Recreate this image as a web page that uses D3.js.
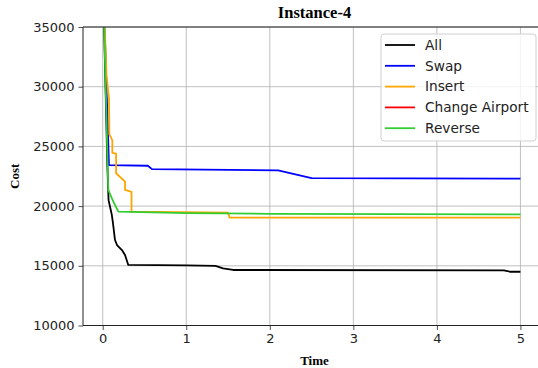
<!DOCTYPE html>
<html>
<head>
<meta charset="utf-8">
<script src="https://cdn.jsdelivr.net/npm/d3@7"></script>
<style>
  body { margin: 0; background: #fff; }
  svg { display: block; }
</style>
</head>
<body>
<script>
// data
const allTime   = [0, 0.055, 0.07, 0.108, 0.123, 0.147, 0.171, 0.23, 0.267, 0.306, 1.0, 1.35, 1.44, 1.56, 4.8, 4.88, 5.0];
const allCost   = [40000, 23500, 20500, 19300, 18560, 17160, 16740, 16320, 15900, 15070, 15040, 15000, 14790, 14650, 14620, 14500, 14500];

const swapTime  = [0, 0.075, 0.54, 0.59, 2.1, 2.5, 5.0];
const swapCost  = [40000, 23440, 23380, 23100, 23000, 22350, 22300];

const insertTime = [0, 0.045, 0.075, 0.08, 0.115, 0.115, 0.16, 0.16, 0.267, 0.267, 0.345, 0.345, 1.5, 1.52, 5.0];
const insertCost = [40000, 31000, 29000, 26000, 25500, 24450, 24400, 22750, 22050, 21350, 21200, 19530, 19450, 19030, 19030];

const changeTime = [0, 1.0, 2.0, 5.0];
const changeCost = [60000, 52000, 50000, 49000];

const reverseTime = [0, 0.055, 0.067, 0.127, 0.187, 1.0, 2.0, 5.0];
const reverseCost = [40000, 24450, 21350, 20370, 19530, 19420, 19350, 19300];

const seriesNames  = ["All", "Swap", "Insert", "Change Airport", "Reverse"];
const seriesColors = ["#000000", "#0000ff", "#ffa500", "#ff0000", "#32cd32"];
const seriesData = [
  [allTime, allCost], [swapTime, swapCost], [insertTime, insertCost],
  [changeTime, changeCost], [reverseTime, reverseCost]
];

const xTicks = [0, 1, 2, 3, 4, 5];
const yTicks = [10000, 15000, 20000, 25000, 30000, 35000];

const width = 538, height = 368;
const plot = { left: 83, top: 27, right: 546, bottom: 325.5 };

const svg = d3.select("body").append("svg")
  .attr("width", width)
  .attr("height", height)
  .style("font-family", "DejaVu Sans, sans-serif");

const x = d3.scaleLinear().domain([-0.236, 5.306]).range([plot.left, plot.right]);
const y = d3.scaleLinear().domain([10000, 35000]).range([plot.bottom, plot.top]);

svg.append("clipPath").attr("id", "clip")
  .append("rect")
  .attr("x", plot.left).attr("y", plot.top)
  .attr("width", plot.right - plot.left).attr("height", plot.bottom - plot.top);

// grid
const grid = svg.append("g");
grid.selectAll(".gx").data(xTicks).enter().append("line")
  .attr("x1", d => x(d)).attr("x2", d => x(d))
  .attr("y1", plot.top).attr("y2", plot.bottom)
  .attr("stroke", "#b0b0b0").attr("stroke-width", 0.8);
grid.selectAll(".gy").data(yTicks).enter().append("line")
  .attr("x1", plot.left).attr("x2", plot.right)
  .attr("y1", d => y(d)).attr("y2", d => y(d))
  .attr("stroke", "#b0b0b0").attr("stroke-width", 0.8);

// lines
const line = d3.line().x(d => x(d[0])).y(d => y(d[1]));
const lines = svg.append("g").attr("clip-path", "url(#clip)");
seriesData.forEach((s, i) => {
  const pts = s[0].map((t, j) => [t, s[1][j]]);
  lines.append("path")
    .datum(pts)
    .attr("d", line)
    .attr("fill", "none")
    .attr("stroke", seriesColors[i])
    .attr("stroke-width", 1.8)
    .attr("stroke-linejoin", "round");
});

// axes
const xAxis = svg.append("g")
  .attr("transform", `translate(0,${plot.bottom})`)
  .call(d3.axisBottom(x).tickValues(xTicks).tickFormat(d3.format("d")).tickSize(4.5).tickPadding(4));
const yAxis = svg.append("g")
  .attr("transform", `translate(${plot.left},0)`)
  .call(d3.axisLeft(y).tickValues(yTicks).tickFormat(d => d).tickSize(4.5).tickPadding(4));
[xAxis, yAxis].forEach(a => {
  a.select(".domain").remove();
  a.selectAll("line").attr("stroke", "#222").attr("stroke-width", 0.8);
  a.selectAll("text").attr("fill", "#222").style("font-size", "13px").style("font-family", "DejaVu Sans, sans-serif");
});

// spines
svg.append("line").attr("x1", plot.left).attr("x2", plot.left).attr("y1", plot.top).attr("y2", plot.bottom)
  .attr("stroke", "#222").attr("stroke-width", 1);
svg.append("line").attr("x1", plot.left).attr("x2", plot.right).attr("y1", plot.bottom).attr("y2", plot.bottom)
  .attr("stroke", "#222").attr("stroke-width", 1);
svg.append("line").attr("x1", plot.left).attr("x2", plot.right).attr("y1", plot.top).attr("y2", plot.top)
  .attr("stroke", "#222").attr("stroke-width", 1);

// titles
svg.append("text")
  .attr("x", (plot.left + plot.right) / 2).attr("y", 18)
  .attr("text-anchor", "middle")
  .style("font-family", "Liberation Serif, serif").style("font-weight", "bold").style("font-size", "16.5px")
  .text("Instance-4");
svg.append("text")
  .attr("x", (plot.left + plot.right) / 2).attr("y", 365)
  .attr("text-anchor", "middle")
  .style("font-family", "Liberation Serif, serif").style("font-weight", "bold").style("font-size", "13px")
  .text("Time");
svg.append("text")
  .attr("transform", `translate(19,${(plot.top + plot.bottom) / 2}) rotate(-90)`)
  .attr("text-anchor", "middle")
  .style("font-family", "Liberation Serif, serif").style("font-weight", "bold").style("font-size", "13px")
  .text("Cost");

// legend
const legend = svg.append("g").attr("transform", "translate(381,34)");
legend.append("rect")
  .attr("width", 155).attr("height", 107).attr("rx", 3)
  .attr("fill", "#fff").attr("fill-opacity", 0.8)
  .attr("stroke", "#d0d0d0").attr("stroke-width", 1);
seriesNames.forEach((name, i) => {
  const ly = 11 + i * 20.8;
  legend.append("line")
    .attr("x1", 4).attr("x2", 34).attr("y1", ly).attr("y2", ly)
    .attr("stroke", seriesColors[i]).attr("stroke-width", 1.8);
  legend.append("text")
    .attr("x", 44).attr("y", ly + 4.8)
    .style("font-size", "13.7px").attr("fill", "#222")
    .text(name);
});
</script>
</body>
</html>
